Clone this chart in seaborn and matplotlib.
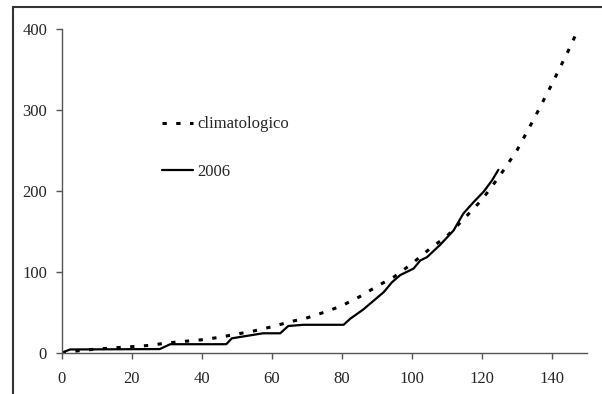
import numpy as np
import pandas as pd
import matplotlib
matplotlib.use("Agg")
import matplotlib.pyplot as plt
import seaborn as sns
from matplotlib.patches import Rectangle

# climatological cumulative curve
clim_day = [0, 5, 10, 15, 20, 25, 30, 35, 40, 45, 50, 55, 60, 65, 70, 75, 80,
            85, 90, 95, 100, 105, 110, 115, 120, 125, 130, 135, 140, 145, 147]
clim_val = [0, 2.5, 4.5, 6, 7.5, 9, 12, 14, 16, 19, 23, 27, 32, 38, 43, 50, 58,
            69, 82, 94, 110, 128, 144, 166, 189, 218, 250, 290, 332, 376, 395]

# 2006 cumulative curve
y06_day = [0, 2.4, 28, 31, 47, 48.6, 57.5, 62.4, 64.7, 69, 80.5, 82.4, 86, 89,
           92, 94.3, 96.7, 100.5, 102.4, 104.3, 108, 111.9, 114.7, 117.6,
           120.5, 122.9, 124.7]
y06_val = [0, 4, 4.5, 10.5, 10.5, 17.8, 24, 24, 33, 34.5, 34.5, 42, 53, 64,
           75, 87, 96, 104, 114, 118, 133, 151, 172, 186, 199, 213, 226]

x_ticks = [0, 20, 40, 60, 80, 100, 120, 140]
y_ticks = [0, 100, 200, 300, 400]

sns.set_style("white")
plt.rcParams["font.family"] = ["Liberation Serif", "DejaVu Serif"]

clim = pd.DataFrame({"day": clim_day, "val": clim_val})
d06 = pd.DataFrame({"day": y06_day, "val": y06_val})

fig = plt.figure(figsize=(6.02, 3.94), dpi=100)
ax = fig.add_axes([0.1025, 0.1048, 0.8725, 0.8215])

sns.lineplot(data=clim, x="day", y="val", ax=ax, color="black", lw=2.2,
             linestyle=(0, (1.4, 3.1)), label="climatologico")
sns.lineplot(data=d06, x="day", y="val", ax=ax, color="black", lw=1.6,
             label="2006")

ax.set_xlim(0, 150)
ax.set_ylim(0, 400)
ax.set_xticks(x_ticks)
ax.set_yticks(y_ticks)
ax.set_xlabel("")
ax.set_ylabel("")
for s in ["top", "right"]:
    ax.spines[s].set_visible(False)
for s in ["left", "bottom"]:
    ax.spines[s].set_color("#555555")
    ax.spines[s].set_linewidth(1)
ax.tick_params(axis="both", which="major", length=4, width=1, color="#555555",
               labelsize=12, direction="out")
ax.tick_params(axis="y", pad=6.5, left=True)
ax.tick_params(axis="x", pad=9.5, bottom=True)

ax.legend(loc="upper left", bbox_to_anchor=(0.19, 0.73), frameon=False,
          fontsize=12, handlelength=1.9, handletextpad=0.26,
          labelspacing=1.9, borderpad=0, borderaxespad=0)

fig.add_artist(Rectangle((13 / 602, -0.2), 1.2, 1 - 7 / 394 + 0.2,
                         transform=fig.transFigure, fill=False,
                         edgecolor="#333333", lw=1.5))

fig.savefig("out.png", dpi=100)
